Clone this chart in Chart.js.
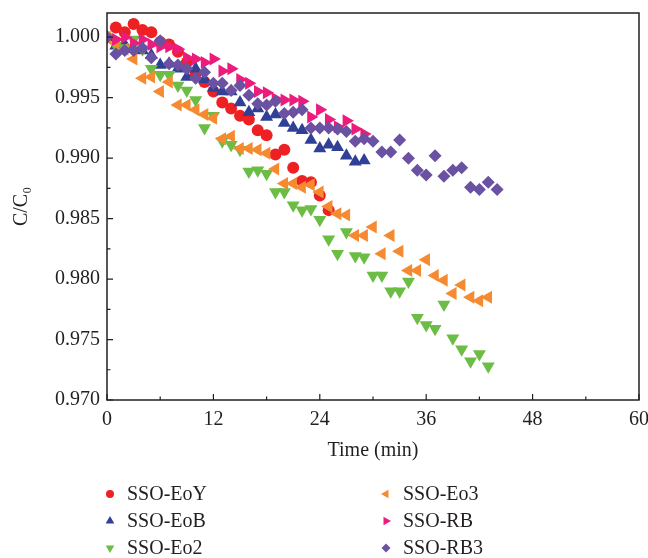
<!DOCTYPE html>
<html>
<head>
<meta charset="utf-8">
<script src="https://cdn.jsdelivr.net/npm/chart.js@4/dist/chart.umd.min.js"></script>
<style>
html, body { margin: 0; padding: 0; background: #fff; }
canvas { display: block; }
</style>
</head>
<body>
<canvas id="grafico" width="648" height="558"></canvas>
<script>
// tempo (min)
const tempo = [0, 1, 2, 3, 4, 5, 6, 7, 8, 9, 10, 11, 12, 13, 14, 15, 16, 17, 18, 19, 20, 21,
    22, 23, 24, 25, 26, 27, 28, 29, 30, 31, 32, 33, 34, 35, 36, 37, 38, 39, 40, 41, 42, 43, 44];

// C/C0 de cada amostra
const ssoEoY = [1.0000, 1.0008, 1.0004, 1.0011, 1.0006, 1.0004, 0.9996, 0.9994, 0.9988, 0.9979,
    0.9970, 0.9963, 0.9955, 0.9946, 0.9941, 0.9935, 0.9932, 0.9923, 0.9919, 0.9903, 0.9907,
    0.9892, 0.9881, 0.9880, 0.9869, 0.9857];
const ssoEoB = [1.0000, 0.9993, 0.9994, 0.9990, 0.9989, 0.9985, 0.9977, 0.9978, 0.9974, 0.9967,
    0.9974, 0.9965, 0.9958, 0.9955, 0.9955, 0.9946, 0.9938, 0.9941, 0.9934, 0.9936, 0.9929,
    0.9925, 0.9923, 0.9915, 0.9908, 0.9911, 0.9909, 0.9902, 0.9897, 0.9898];
const ssoEo2 = [1.0000, 0.9993, 0.9991, 0.9998, 0.9990, 0.9974, 0.9969, 0.9969, 0.9960, 0.9956,
    0.9948, 0.9925, 0.9935, 0.9914, 0.9911, 0.9907, 0.9889, 0.9890, 0.9887, 0.9872, 0.9872,
    0.9861, 0.9857, 0.9858, 0.9849, 0.9833, 0.9821, 0.9839, 0.9819, 0.9818, 0.9803, 0.9803,
    0.9790, 0.9790, 0.9798, 0.9768, 0.9762, 0.9759, 0.9779, 0.9751, 0.9742, 0.9732, 0.9738, 0.9728];
const ssoEo3 = [1.0000, 0.9995, 0.9990, 0.9982, 0.9966, 0.9967, 0.9955, 0.9963, 0.9944, 0.9944,
    0.9940, 0.9936, 0.9933, 0.9916, 0.9918, 0.9908, 0.9908, 0.9907, 0.9904, 0.9891, 0.9879,
    0.9879, 0.9876, 0.9878, 0.9872, 0.9860, 0.9854, 0.9853, 0.9836, 0.9836, 0.9843, 0.9821,
    0.9836, 0.9823, 0.9807, 0.9807, 0.9816, 0.9803, 0.9799, 0.9788, 0.9795, 0.9785, 0.9782, 0.9785];
const ssoRB = [1.0000, 0.9998, 1.0000, 0.9995, 0.9998, 0.9994, 0.9992, 0.9992, 0.9990, 0.9983,
    0.9982, 0.9979, 0.9982, 0.9972, 0.9974, 0.9965, 0.9962, 0.9955, 0.9954, 0.9949, 0.9948,
    0.9948, 0.9947, 0.9934, 0.9940, 0.9932, 0.9926, 0.9931, 0.9924, 0.9920];
const ssoRB3 = [1.0000, 0.9986, 0.9989, 0.9989, 0.9991, 0.9983, 0.9997, 0.9978, 0.9977, 0.9974,
    0.9966, 0.9971, 0.9962, 0.9962, 0.9956, 0.9960, 0.9952, 0.9945, 0.9944, 0.9947, 0.9937,
    0.9938, 0.9940, 0.9925, 0.9925, 0.9925, 0.9924, 0.9922, 0.9914, 0.9916, 0.9914, 0.9905,
    0.9905, 0.9915, 0.9900, 0.9890, 0.9886, 0.9902, 0.9885, 0.9890, 0.9892, 0.9876, 0.9874,
    0.9880, 0.9874];

const xTicks = [0, 12, 24, 36, 48, 60];
const yTicks = [0.970, 0.975, 0.980, 0.985, 0.990, 0.995, 1.000];

const FONTE = '"Liberation Serif", "DejaVu Serif", serif';
const COR_TEXTO = '#231f20';

const series = [
    { label: 'SSO-EoY', data: ssoEoY, cor: '#ed2024', estilo: 'circle', rot: 0, raio: 6, legRaio: 4 },
    { label: 'SSO-EoB', data: ssoEoB, cor: '#2f4096', estilo: 'triangle', rot: 0, raio: 7.5, legRaio: 5 },
    { label: 'SSO-Eo2', data: ssoEo2, cor: '#6cbd45', estilo: 'triangle', rot: 180, raio: 7.5, legRaio: 5 },
    { label: 'SSO-Eo3', data: ssoEo3, cor: '#f58a31', estilo: 'triangle', rot: 270, raio: 7.5, legRaio: 5 },
    { label: 'SSO-RB', data: ssoRB, cor: '#ec1c7c', estilo: 'triangle', rot: 90, raio: 7.5, legRaio: 5 },
    { label: 'SSO-RB3', data: ssoRB3, cor: '#6a51a1', estilo: 'rectRot', rot: 0, raio: 6.5, legRaio: 4.5 }
];

// moldura do gráfico + ticks para dentro (principais e secundários)
const molduraEixos = {
    id: 'molduraEixos',
    afterDatasetsDraw(chart) {
        const { ctx, chartArea: a, scales } = chart;
        ctx.save();
        ctx.strokeStyle = COR_TEXTO;
        ctx.lineWidth = 1.5;
        ctx.strokeRect(a.left, a.top, a.right - a.left, a.bottom - a.top);

        ctx.lineWidth = 1.2;
        ctx.beginPath();
        for (let i = 0; i < xTicks.length; i++) {
            const px = scales.x.getPixelForValue(xTicks[i]);
            ctx.moveTo(px, a.bottom);
            ctx.lineTo(px, a.bottom - 6);
            if (i < xTicks.length - 1) {
                const pm = scales.x.getPixelForValue((xTicks[i] + xTicks[i + 1]) / 2);
                ctx.moveTo(pm, a.bottom);
                ctx.lineTo(pm, a.bottom - 3.5);
            }
        }
        for (let i = 0; i < yTicks.length; i++) {
            const py = scales.y.getPixelForValue(yTicks[i]);
            ctx.moveTo(a.left, py);
            ctx.lineTo(a.left + 6, py);
            if (i < yTicks.length - 1) {
                const pm = scales.y.getPixelForValue((yTicks[i] + yTicks[i + 1]) / 2);
                ctx.moveTo(a.left, pm);
                ctx.lineTo(a.left + 3.5, pm);
            }
        }
        ctx.stroke();
        ctx.restore();
    }
};

// legenda em duas colunas embaixo do gráfico
const legendaColunas = {
    id: 'legendaColunas',
    afterDraw(chart) {
        const ctx = chart.ctx;
        const colunas = [110, 386];
        const linhas = [494, 521, 548];
        ctx.save();
        ctx.font = '20px ' + FONTE;
        ctx.textBaseline = 'middle';
        series.forEach((s, i) => {
            const cx = colunas[Math.floor(i / 3)];
            const cy = linhas[i % 3];
            ctx.fillStyle = s.cor;
            ctx.strokeStyle = s.cor;
            ctx.lineWidth = 0;
            Chart.helpers.drawPoint(ctx, { pointStyle: s.estilo, rotation: s.rot, radius: s.legRaio, borderWidth: 0 }, cx, cy);
            ctx.fillStyle = COR_TEXTO;
            ctx.fillText(s.label, cx + 17, cy + 1);
        });
        ctx.restore();
    }
};

const datasets = series.map((s, i) => ({
    label: s.label,
    data: s.data.map((v, k) => ({ x: tempo[k], y: v })),
    backgroundColor: s.cor,
    borderColor: s.cor,
    borderWidth: 0,
    pointStyle: s.estilo,
    rotation: s.rot,
    pointRadius: s.raio,
    pointHoverRadius: s.raio,
    showLine: false,
    order: series.length - i
}));

const chart = new Chart(document.getElementById('grafico').getContext('2d'), {
    type: 'scatter',
    data: { datasets: datasets },
    options: {
        responsive: false,
        animation: false,
        devicePixelRatio: 1,
        layout: { padding: { left: 0, top: 13, right: 9, bottom: 95 } },
        plugins: {
            legend: { display: false },
            tooltip: { enabled: false }
        },
        scales: {
            x: {
                type: 'linear',
                min: 0,
                max: 60,
                afterBuildTicks: scale => { scale.ticks = xTicks.map(v => ({ value: v })); },
                afterFit: scale => {
                    scale.height = 63;
                    scale.paddingLeft = 0;
                    scale.paddingRight = 0;
                },
                grid: { display: false, drawTicks: false },
                border: { display: false },
                ticks: { padding: 8, color: COR_TEXTO, font: { family: FONTE, size: 20 }, maxRotation: 0, autoSkip: false },
                title: { display: true, text: 'Time (min)', color: COR_TEXTO, font: { family: FONTE, size: 20 }, padding: { top: 0, bottom: 0 } }
            },
            y: {
                type: 'linear',
                min: 0.970,
                max: 1.002,
                afterBuildTicks: scale => { scale.ticks = yTicks.map(v => ({ value: v })); },
                afterFit: scale => {
                    scale.width = 107;
                    scale.paddingTop = 0;
                    scale.paddingBottom = 0;
                },
                grid: { display: false, drawTicks: false },
                border: { display: false },
                ticks: {
                    padding: 7,
                    color: COR_TEXTO,
                    font: { family: FONTE, size: 20 },
                    callback: v => Number(v).toFixed(3)
                },
                title: { display: true, text: 'C/C₀', color: COR_TEXTO, font: { family: FONTE, size: 20 }, padding: { top: 10, bottom: 10 } }
            }
        }
    },
    plugins: [molduraEixos, legendaColunas]
});
</script>
</body>
</html>
